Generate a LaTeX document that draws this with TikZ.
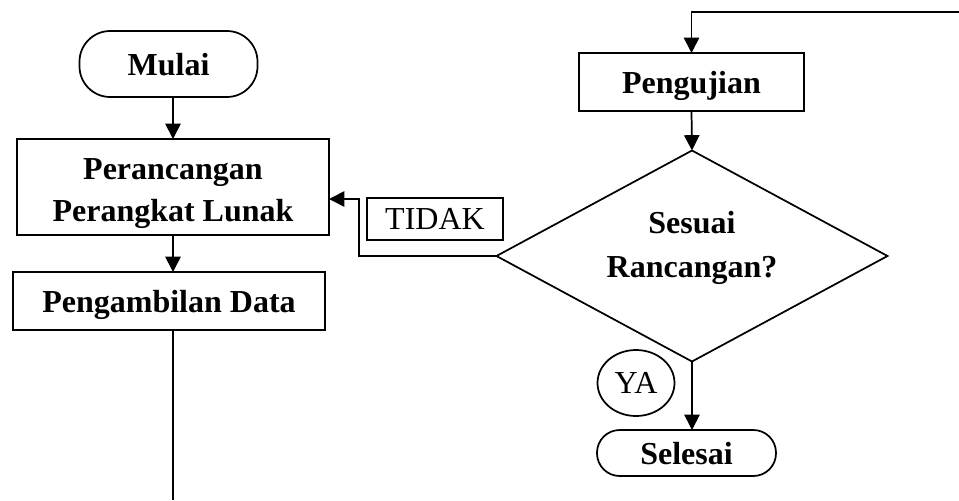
\documentclass[tikz,border=0pt]{standalone}
\usepackage{fontspec}
\setmainfont{Liberation Serif}
\usetikzlibrary{arrows.meta,shapes.geometric}
\begin{document}
\begin{tikzpicture}[
  x=0.75pt, y=-0.75pt,
  every node/.style={inner sep=0pt, outer sep=0pt, line width=1.3pt},
  lbl/.style={font=\fontsize{24}{31.5}\selectfont\bfseries, text depth=0pt, align=center},
  plain/.style={font=\fontsize{24}{31.5}\selectfont, text depth=0pt, align=center},
  procbox/.style={draw, rectangle, lbl},
  termbox/.style={draw, rectangle, lbl},
  decbox/.style={draw, diamond},
  tagbox/.style={draw, rectangle, plain},
  tagoval/.style={draw, ellipse, plain},
  flow/.style={line width=1.3pt, -{Triangle[length=11.5pt, width=11.5pt]}},
  wire/.style={line width=1.3pt}
]
\useasboundingbox (0,0) rectangle (959,500);

% left column
\node[termbox, rounded corners=23pt, minimum width=133.5pt, minimum height=49.5pt]
  (mulai) at (168.5,64) {Mulai};
\node[procbox, minimum width=234pt, minimum height=72pt]
  (perancangan) at (173,187) {};
\node[lbl] (perancanganText) at (173,190) {Perancangan\\Perangkat Lunak};
\node[procbox, minimum width=234pt, minimum height=43.5pt]
  (pengambilan) at (169,301) {Pengambilan Data};

% right column
\node[procbox, minimum width=168.75pt, minimum height=43.5pt]
  (pengujian) at (691.5,82) {Pengujian};
\node[decbox, minimum width=293.25pt, minimum height=158.25pt]
  (decision) at (692,256) {};
\node[lbl, font=\fontsize{24}{33}\selectfont\bfseries] (decisionText) at (692,244) {Sesuai\\Rancangan?};
\node[termbox, rounded corners=17pt, minimum width=134.25pt, minimum height=34.5pt]
  (selesai) at (686.5,453) {Selesai};

% branch labels
\node[tagbox, minimum width=102pt, minimum height=31.5pt] (tidak) at (435,219) {TIDAK};
\node[tagoval, minimum width=57.75pt, minimum height=49.5pt] (ya) at (636,383) {YA};

% connector ends that leave the drawing
\coordinate (loopin) at (959,12);
\coordinate (loopout) at (173,500);
\coordinate (fbk) at (359,256);

% connectors
\draw[flow] (perancangan.north |- mulai.south) -- (perancangan.north);
\draw[flow] (perancangan.south) -- (perancangan.south |- pengambilan.north);
\draw[wire] (pengambilan.south -| loopout) -- (loopout);
\draw[flow] (loopin) -| (pengujian.north);
\draw[flow] (pengujian.south) -- (decision.north);
\draw[flow] (decision.south) -- (decision.south |- selesai.north);
\draw[flow] (decision.west) -- (fbk) |- ([yshift=-9pt]perancangan.east);
\end{tikzpicture}
\end{document}
